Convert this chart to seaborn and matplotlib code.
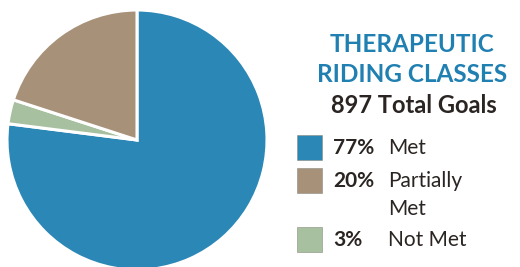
import matplotlib
matplotlib.use("Agg")
import matplotlib.pyplot as plt
from matplotlib.patches import Rectangle
import seaborn as sns

# data
labels = ["Met", "Not Met", "Partially\nMet"]
shares = [77, 3, 20]
colors = ["#2b87b6", "#a7c09f", "#a89179"]
title_lines = ["THERAPEUTIC", "RIDING CLASSES"]
subtitle = "897 Total Goals"
# legend order as in the picture
legend_idx = [0, 2, 1]

sns.set_theme(style="white")
plt.rcParams['font.family'] = ['Lato', 'DejaVu Sans']

W, H = 520, 267
fig = plt.figure(figsize=(W / 100, H / 100), dpi=100)

# pie, centre ~ (137,140) px, radius ~130 px
cx, cy, r = 137, 140, 130
ax = fig.add_axes([(cx - r) / W, (H - cy - r) / H, 2 * r / W, 2 * r / H])
ax.pie(shares, colors=colors, startangle=90, counterclock=False,
       wedgeprops=dict(edgecolor="white", linewidth=2.2))
ax.set_xlim(-1, 1)
ax.set_ylim(-1, 1)
ax.set_aspect("equal")
ax.axis("off")

blue_txt = "#1f80b1"
dark_txt = "#2a2522"
fig.text(412 / W, 1 - 45 / H, title_lines[0], ha="center", va="center",
         fontsize=17.5, fontweight="bold", color=blue_txt)
fig.text(412 / W, 1 - 75 / H, title_lines[1], ha="center", va="center",
         fontsize=17.5, fontweight="bold", color=blue_txt)
fig.text(414 / W, 1 - 105 / H, subtitle, ha="center", va="center",
         fontsize=17, fontweight="bold", color=dark_txt)

# legend
box_y = [135, 168, 227]
for k, i in enumerate(legend_idx):
    y0 = box_y[k]
    fig.patches.append(Rectangle((297 / W, 1 - (y0 + 25) / H), 25 / W, 25 / H,
                                 transform=fig.transFigure, facecolor=colors[i],
                                 edgecolor="#8a8a80", linewidth=0.4))
    ty = y0 + 13
    fig.text(333 / W, 1 - ty / H, f"{shares[i]}%", ha="left", va="center",
             fontsize=15, fontweight="bold", color=dark_txt)
    if "\n" in labels[i]:
        fig.text(388 / W, 1 - (ty - 10) / H, labels[i], ha="left", va="top",
                 fontsize=15, color=dark_txt, linespacing=1.5)
    else:
        fig.text(388 / W, 1 - ty / H, labels[i], ha="left", va="center",
                 fontsize=15, color=dark_txt)

fig.savefig("out.png", dpi=100)
